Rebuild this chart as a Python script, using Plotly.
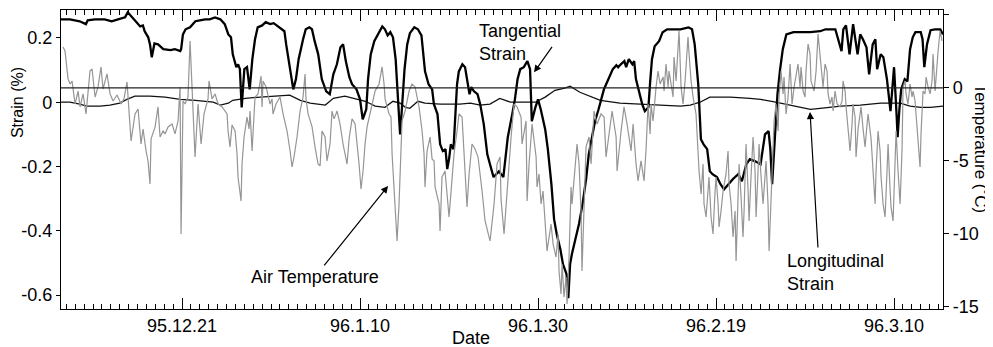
import plotly.graph_objects as go

# Days counted from 1995-12-01 (day 20 = 95.12.21)
tick_days = [20, 40, 60, 80, 100]
tick_labels = ["95.12.21", "96.1.10", "96.1.30", "96.2.19", "96.3.10"]

strain_ticks = [-0.6, -0.4, -0.2, 0, 0.2]
strain_labels = ["-0.6", "-0.4", "-0.2", "0", "0.2"]
temp_ticks = [-15, -10, -5, 0, 5]
temp_labels = ["-15", "-10", "-5", "0", "5"]

tan_day = [6.4, 7.4, 8.5, 9.2, 9.4, 10.2, 11.3, 12.1, 12.8, 13.6, 13.9, 14.4, 14.7, 15.3, 15.6, 15.8,
           16.2, 16.4, 16.6, 16.9, 17.3, 17.9, 18.7, 19.2, 19.8, 19.9, 20.1, 20.4, 20.9, 21.5, 22.0,
           22.6, 23.1, 23.7, 24.3, 24.8, 25.2, 25.5, 25.7, 26.1, 26.3, 26.5, 26.7, 27.0, 27.3, 27.6,
           27.9, 28.2, 28.5, 29.0, 29.4, 29.9, 30.3, 31.0, 31.5, 31.7, 32.0, 32.5, 32.8, 33.1, 33.6,
           33.9, 34.3, 34.6, 34.9, 35.3, 35.7, 36.2, 36.6, 37.0, 37.4, 37.8, 38.1, 38.4, 38.8, 39.1,
           39.6, 40.0, 40.3, 40.7, 40.9, 41.2, 41.6, 42.0, 42.5, 42.8, 43.1, 43.4, 43.7, 44.0, 44.3,
           44.5, 44.7, 45.0, 45.3, 45.6, 46.1, 46.5, 46.9, 47.1, 47.3, 47.7, 48.1, 48.3, 48.7, 49.0,
           49.3, 49.6, 49.8, 50.0, 50.2, 50.5, 50.7, 50.9, 51.1, 51.5, 51.8, 52.0, 52.3, 52.5, 52.8,
           53.2, 53.5, 53.9, 54.3, 54.6, 55.0, 55.3, 55.6, 56.1, 56.3, 56.6, 57.1, 57.4, 57.7, 58.0,
           58.4, 58.8, 59.1, 59.3, 59.7, 60.0, 60.3, 60.8, 61.1, 61.5, 61.8, 62.1, 62.5, 62.8, 63.2,
           63.4, 63.6, 63.8, 64.2, 64.6, 65.0, 65.4, 65.7, 66.1, 66.4, 66.8, 67.1, 67.4, 67.8, 68.1,
           68.4, 68.8, 69.0, 69.3, 69.7, 69.9, 70.2, 70.6, 70.8, 71.0, 71.3, 71.7, 72.0, 72.4, 72.6,
           72.8, 73.1, 73.6, 74.0, 74.5, 75.1, 76.0, 76.9, 77.3, 77.6, 77.8, 78.0, 78.3, 78.6, 79.0,
           79.3, 79.6, 80.1, 80.5, 80.9, 81.4, 81.9, 82.5, 82.9, 83.4, 83.8, 84.4, 85.0, 85.5, 85.9,
           86.1, 86.3, 86.6, 86.9, 87.2, 87.5, 87.9, 88.7, 89.4, 90.6, 91.7, 92.3, 93.4, 93.7, 94.1,
           94.3, 94.6, 95.0, 95.4, 95.9, 96.2, 96.5, 96.9, 97.2, 97.6, 97.9, 98.1, 98.5, 98.8, 99.2,
           99.6, 99.8, 100.0, 100.3, 100.4, 100.6, 100.8, 101.2, 101.5, 101.8, 102.1, 102.4, 103.0,
           103.2, 103.4, 103.7, 104.1, 104.6, 105.2, 105.5]
tan_strain = [0.258, 0.258, 0.252, 0.243, 0.255, 0.258, 0.258, 0.252, 0.258, 0.264, 0.280, 0.264, 0.255,
              0.236, 0.239, 0.221, 0.202, 0.180, 0.140, 0.183, 0.180, 0.165, 0.162, 0.165, 0.159, 0.165,
              0.211, 0.227, 0.233, 0.252, 0.255, 0.258, 0.258, 0.264, 0.258, 0.243, 0.211, 0.202, 0.149,
              0.109, 0.118, 0.103, -0.016, 0.103, 0.109, 0.040, 0.134, 0.196, 0.233, 0.239, 0.249, 0.243,
              0.246, 0.233, 0.221, 0.180, 0.128, 0.040, 0.072, 0.134, 0.196, 0.227, 0.233, 0.227, 0.190,
              0.149, 0.072, 0.034, 0.025, 0.087, 0.118, 0.171, 0.180, 0.128, 0.078, 0.056, 0.040, 0.009,
              -0.053, -0.022, 0.072, 0.149, 0.190, 0.211, 0.236, 0.227, 0.208, 0.218, 0.202, 0.134, 0.009,
              -0.100, -0.022, 0.103, 0.180, 0.215, 0.233, 0.227, 0.208, 0.149, 0.096, 0.056, 0.040, -0.006,
              -0.037, -0.131, -0.152, -0.146, -0.208, -0.177, -0.131, -0.146, -0.053, 0.056, 0.096, 0.118,
              0.109, 0.072, 0.025, 0.047, 0.034, 0.025, -0.006, -0.068, -0.162, -0.193, -0.233, -0.224,
              -0.215, -0.233, -0.177, -0.109, -0.037, 0.009, 0.072, 0.103, 0.109, 0.128, 0.103, -0.059,
              -0.016, 0.009, -0.022, -0.084, -0.146, -0.255, -0.364, -0.411, -0.457, -0.504, -0.535, -0.610,
              -0.504, -0.473, -0.426, -0.379, -0.317, -0.239, -0.162, -0.100, -0.059, -0.022, 0.009, 0.040,
              0.065, 0.087, 0.103, 0.115, 0.109, 0.118, 0.128, 0.109, 0.134, 0.118, 0.128, 0.072, 0.040,
              -0.006, -0.028, -0.016, 0.065, 0.134, 0.174, 0.190, 0.218, 0.227, 0.227, 0.227, 0.233, 0.227,
              0.180, 0.118, 0.056, -0.115, -0.131, -0.146, -0.215, -0.224, -0.233, -0.255, -0.271, -0.255,
              -0.239, -0.224, -0.246, -0.193, -0.177, -0.184, -0.193, -0.100, -0.090, -0.146, -0.255,
              -0.115, 0.025, 0.103, 0.165, 0.211, 0.218, 0.218, 0.218, 0.221, 0.227, 0.227, 0.196, 0.159,
              0.227, 0.239, 0.149, 0.243, 0.149, 0.211, 0.196, 0.171, 0.087, 0.180, 0.196, 0.103, 0.149,
              0.140, 0.072, -0.028, 0.040, 0.109, -0.047, -0.109, -0.022, 0.040, 0.072, 0.065, 0.165, 0.202,
              0.218, 0.218, 0.196, 0.109, 0.180, 0.224, 0.227, 0.227, 0.211]

lon_day = [6.4, 7.4, 8.5, 9.3, 10.8, 11.9, 13.0, 13.8, 14.7, 16.4, 18.1, 19.8, 21.5, 23.5, 24.3, 25.2,
           25.7, 27.1, 28.8, 31.0, 32.1, 33.3, 34.4, 36.1, 37.0, 38.3, 39.4, 40.6, 41.7, 42.8, 43.7,
           44.5, 45.1, 45.6, 46.5, 47.3, 49.0, 51.2, 52.4, 53.5, 54.6, 55.7, 56.9, 58.0, 59.7, 60.8,
           61.9, 63.0, 63.6, 64.7, 65.9, 67.0, 69.2, 71.5, 73.7, 76.0, 77.1, 78.2, 79.3, 81.6, 83.8,
           85.0, 86.7, 88.3, 89.4, 90.6, 91.7, 92.8, 94.0, 96.2, 98.5, 100.7, 101.8, 103.0, 104.1, 105.5]
lon_strain = [0.000, 0.000, -0.006, -0.012, -0.012, -0.009, -0.003, 0.009, 0.019, 0.019, 0.016, 0.009,
              0.006, 0.000, -0.009, -0.003, 0.006, 0.012, 0.016, 0.019, 0.022, 0.006, -0.003, -0.009,
              0.012, 0.019, 0.012, 0.003, -0.012, -0.016, 0.003, -0.003, -0.016, -0.019, 0.003, -0.003,
              -0.006, -0.006, -0.003, -0.009, -0.006, 0.012, 0.000, 0.000, 0.000, 0.016, 0.037, 0.044,
              0.050, 0.031, 0.019, 0.006, -0.003, -0.006, -0.009, -0.012, -0.009, 0.000, 0.016, 0.016,
              0.012, 0.009, 0.000, -0.009, -0.016, -0.022, -0.019, -0.016, -0.012, -0.009, -0.003, -0.003,
              -0.012, -0.016, -0.016, -0.012]

air_day = [6.63, 6.85, 7.19, 7.42, 7.64, 7.98, 8.32, 8.54, 8.88, 9.21, 9.66, 9.89, 10.23, 10.56, 10.90,
           11.12, 11.57, 11.91, 12.25, 12.70, 13.15, 13.48, 13.82, 14.16, 14.27, 14.72, 15.06, 15.39,
           15.62, 15.96, 16.18, 16.40, 16.52, 16.97, 17.30, 17.53, 17.87, 18.09, 18.43, 18.88, 19.21,
           19.55, 19.78, 19.89, 20.11, 20.34, 20.67, 20.90, 21.12, 21.46, 21.80, 22.14, 22.47, 22.92,
           23.03, 23.37, 23.71, 24.05, 24.50, 25.06, 25.17, 25.39, 25.62, 25.96, 26.18, 26.29, 26.63,
           26.74, 26.97, 27.30, 27.53, 27.64, 27.87, 28.20, 28.54, 28.77, 28.88, 28.99, 29.10, 29.44,
           29.66, 29.89, 30.11, 30.22, 30.56, 31.01, 31.35, 31.80, 32.14, 32.36, 32.58, 32.92, 33.26,
           33.60, 33.82, 33.93, 34.16, 34.61, 34.94, 35.28, 35.51, 35.73, 36.07, 36.29, 36.63, 36.85,
           37.08, 37.42, 37.75, 38.09, 38.54, 38.77, 39.10, 39.44, 39.89, 40.11, 40.34, 40.56, 40.79,
           41.35, 41.69, 42.14, 42.47, 42.70, 42.81, 43.26, 43.48, 43.60, 43.93, 44.16, 44.38, 44.50,
           44.72, 45.06, 45.51, 45.84, 46.18, 46.63, 46.97, 47.19, 47.30, 47.53, 47.87, 48.09, 48.32,
           48.43, 48.88, 48.99, 49.21, 49.55, 49.78, 50.00, 50.23, 50.56, 50.90, 51.12, 51.46, 51.69,
           52.02, 52.25, 52.58, 52.92, 53.26, 53.71, 54.05, 54.50, 54.61, 55.06, 55.39, 55.73, 55.84,
           56.18, 56.52, 56.97, 57.30, 57.64, 58.09, 58.20, 58.65, 58.77, 58.99, 59.33, 59.78, 59.89,
           60.11, 60.34, 60.56, 60.90, 61.01, 61.46, 61.69, 62.02, 62.25, 62.36, 62.58, 62.70, 62.92,
           63.15, 63.26, 63.48, 63.71, 63.82, 64.05, 64.38, 64.61, 64.83, 64.94, 65.17, 65.39, 65.73,
           65.96, 66.29, 66.63, 67.08, 67.42, 67.64, 67.98, 68.32, 68.77, 68.88, 69.33, 69.66, 70.00,
           70.45, 70.68, 71.01, 71.24, 71.57, 71.91, 72.14, 72.36, 72.59, 72.70, 72.92, 73.26, 73.48,
           73.71, 74.05, 74.16, 74.38, 74.61, 74.72, 75.17, 75.28, 75.51, 75.73, 75.84, 76.07, 76.29,
           76.52, 76.85, 76.97, 77.19, 77.42, 77.75, 78.09, 78.32, 78.54, 78.65, 78.88, 79.10, 79.21,
           79.44, 79.66, 79.89, 80.00, 80.23, 80.34, 80.56, 80.79, 81.12, 81.35, 81.46, 81.69, 81.91,
           82.14, 82.25, 82.47, 82.59, 82.81, 83.03, 83.15, 83.37, 83.60, 83.71, 83.93, 84.16, 84.38,
           84.50, 84.72, 84.83, 85.06, 85.28, 85.62, 85.84, 85.96, 86.18, 86.52, 86.74, 86.97, 87.08,
           87.30, 87.53, 87.64, 87.87, 88.09, 88.32, 88.54, 88.77, 88.99, 89.21, 89.44, 89.55, 89.78,
           90.00, 90.11, 90.34, 90.56, 90.67, 91.01, 91.24, 91.46, 91.69, 91.91, 92.02, 92.25, 92.47,
           92.59, 92.81, 93.03, 93.15, 93.37, 93.60, 93.93, 94.16, 94.27, 94.50, 94.61, 94.83, 95.06,
           95.28, 95.39, 95.62, 95.73, 95.96, 96.29, 96.52, 96.74, 96.97, 97.08, 97.42, 97.64, 97.87,
           97.98, 98.20, 98.43, 98.54, 98.77, 98.99, 99.21, 99.33, 99.55, 99.66, 99.89, 100.11, 100.23,
           100.45, 100.68, 100.90, 101.01, 101.24, 101.35, 101.57, 101.80, 102.02, 102.14, 102.36,
           102.47, 102.70, 102.92, 103.03, 103.26, 103.48, 103.60, 103.82, 104.05, 104.27, 104.38,
           104.61, 104.72, 104.95, 105.17, 105.39]
air_temp = [2.81, 2.53, 0.62, 0.27, 0.48, -1.10, -0.21, -1.30, -0.41, -1.78, 1.16, 1.30, -0.62, 0.07, 1.44,
            -0.07, 0.96, -0.41, -0.89, -0.48, -1.10, -0.75, 0.41, -2.26, -3.63, -1.78, -1.44, -3.84,
            -2.81, -4.32, -5.00, -6.58, -3.49, -2.67, -1.30, -3.36, -2.95, -3.15, -2.67, -2.47, -3.15,
            -2.26, 0.07, -10.00, -0.89, -1.10, -0.62, 3.22, -0.41, -4.73, -1.10, -3.84, -1.78, -0.75,
            0.48, -0.75, -0.41, -1.10, -1.30, -1.78, -2.95, -4.04, -2.53, -2.95, -4.52, -6.10, -7.74,
            -5.21, -3.36, -1.99, -2.81, -1.58, -4.32, -0.62, -0.41, 0.48, 0.82, -1.30, 0.48, 0.07,
            -0.41, -1.10, -0.75, -1.78, -1.10, -0.62, -1.78, -2.95, -4.32, -5.41, -4.73, -3.36, -1.58,
            -0.62, 0.96, -0.75, -1.78, -2.67, -4.04, -5.21, -5.34, -2.95, -3.36, -5.00, -3.84, -1.58,
            -2.12, -1.58, -2.47, -3.84, -5.21, -3.49, -2.12, -2.47, -5.21, -6.92, -5.69, -3.84, -2.67,
            -1.10, -0.21, 0.27, 1.44, 0.27, -0.75, -1.78, -1.99, -4.52, -7.95, -10.48, -7.95, -5.69,
            -2.26, -1.58, -0.21, 0.27, 0.07, -1.30, -2.95, -4.52, -6.78, -4.32, -3.36, -4.86, -5.00,
            -6.78, -7.95, -9.80, -6.10, -5.69, -7.06, -8.84, -7.06, -4.52, -2.95, -1.78, -1.99, -4.52,
            -8.15, -5.89, -3.84, -4.18, -4.73, -7.06, -9.11, -10.21, -10.48, -7.95, -5.21, -4.73, -7.60,
            -10.00, -6.92, -3.36, -1.10, -1.30, -1.99, -3.84, -2.26, -7.74, -5.21, -2.47, -4.73, -6.78,
            -5.89, -7.95, -7.06, -10.21, -11.17, -9.32, -10.69, -11.58, -10.00, -12.54, -14.11, -12.06, -14.32,
            -12.95, -14.80, -11.58, -6.78, -7.95, -6.10, -3.84, -5.21, -8.43, -12.54, -7.95, -4.04, -3.36,
            -5.21, -1.58, -2.47, -1.78, -1.99, -4.73, -2.95, -1.58, -3.36, -5.69, -2.95, -1.30, -2.47,
            -4.32, -2.47, -5.21, -6.37, -5.00, -6.37, -4.18, -1.10, -3.15, -1.10, -2.26, 0.07, 1.16,
            0.27, 0.75, -0.21, 1.64, 0.07, 1.16, -0.62, 2.12, 0.48, 3.49, 3.90, 0.07, -1.10,
            0.48, 3.49, 2.33, 0.48, -0.62, -1.78, -5.69, -7.26, -5.21, -7.95, -8.84, -7.06, -6.10,
            -8.84, -10.00, -7.06, -6.10, -7.95, -9.52, -8.43, -7.06, -5.89, -4.32, -6.58, -7.95, -10.21,
            -8.43, -11.85, -7.95, -5.21, -7.47, -10.21, -8.43, -3.84, -7.06, -9.11, -6.10, -3.36, -5.69,
            -8.84, -5.69, -3.84, -6.10, -7.95, -5.00, -7.95, -11.17, -7.95, -2.26, -1.10, -2.95, -0.62,
            1.16, -0.41, 0.75, -1.78, -0.62, 1.64, -1.10, 0.07, 0.75, 1.64, 0.07, 1.44, -0.21,
            -0.62, 1.16, 3.01, 2.33, 0.48, -0.21, 1.16, 3.70, 2.12, 0.96, 0.07, 1.64, 1.16,
            -0.41, -1.10, -0.62, -1.58, -0.21, -1.10, -1.30, -0.89, 0.48, -0.21, -1.30, -2.81, -4.32,
            -2.47, -1.10, -1.99, -4.73, -2.81, -1.30, -2.81, -4.04, -2.47, -1.78, -3.49, -5.69, -7.95,
            -5.69, -2.95, -4.32, -6.10, -7.95, -8.84, -5.69, -3.84, -6.92, -8.15, -9.11, -5.69, -2.95,
            -5.69, -7.95, -4.18, 0.07, 0.48, -0.41, -1.10, 0.27, -0.62, -0.21, -0.89,
            -1.78, -3.36, -5.41, -3.15, -0.21, -0.41, 0.75, 0.07, -0.41, 0.48, 2.33,
            -0.21, 0.75, 2.53, 3.90, 3.22]

FONT = "Liberation Sans, Arial, Helvetica, sans-serif"

fig = go.Figure()
fig.add_trace(go.Scatter(x=air_day, y=air_temp, yaxis="y2", mode="lines",
                         line=dict(color="#959595", width=1.2), name="Air Temperature"))
fig.add_trace(go.Scatter(x=lon_day, y=lon_strain, mode="lines",
                         line=dict(color="#111111", width=1.3), name="Longitudinal Strain"))
fig.add_trace(go.Scatter(x=tan_day, y=tan_strain, mode="lines",
                         line=dict(color="#000000", width=2.3), name="Tangential Strain"))
# empty trace so the mirrored top date axis (with its day ticks) is drawn
fig.add_trace(go.Scatter(x=[], y=[], xaxis="x2", yaxis="y", mode="lines",
                         showlegend=False, hoverinfo="skip"))

fig.add_shape(type="line", xref="paper", x0=0, x1=1, yref="y2", y0=0, y1=0,
              line=dict(color="#222222", width=1.3))

xcommon = dict(range=[6.4, 105.5], tickmode="array", tickvals=tick_days,
               ticks="inside", ticklen=11, tickwidth=1, tickcolor="black",
               showline=True, linecolor="black", linewidth=1.2,
               showgrid=False, zeroline=False,
               minor=dict(tickmode="linear", tick0=0, dtick=1, ticks="inside", ticklen=5,
                          tickwidth=1, tickcolor="black", showgrid=False))

fig.update_layout(
    width=993, height=347,
    # page body adds an 8px offset, so the figure margins are shifted by that amount
    margin=dict(l=53, r=58, t=2, b=46),
    paper_bgcolor="white", plot_bgcolor="white",
    showlegend=False,
    font=dict(family=FONT, size=18, color="black"),
    xaxis=dict(ticktext=tick_labels, **xcommon),
    xaxis2=dict(overlaying="x", side="top", anchor="y", showticklabels=False, **xcommon),
    yaxis=dict(range=[-0.6435, 0.287], tickmode="array", tickvals=strain_ticks, ticktext=strain_labels,
               ticks="outside", ticklen=4, tickcolor="black", showline=True, linecolor="black",
               linewidth=1.2, showgrid=False, zeroline=False),
    yaxis2=dict(range=[-15.14, 5.34], overlaying="y", side="right", tickmode="array",
                tickvals=temp_ticks, ticktext=temp_labels, ticks="outside", ticklen=5,
                tickcolor="black", showline=True, linecolor="black", linewidth=1.2,
                showgrid=False, zeroline=False),
)

ann = dict(showarrow=False, font=dict(family=FONT, size=18, color="black"))
fig.add_annotation(text="Strain (%)", xref="paper", yref="paper", x=-0.0499, y=0.692,
                   xanchor="center", yanchor="middle", textangle=-90,
                   showarrow=False, font=dict(family=FONT, size=16, color="black"))
fig.add_annotation(text="Temperature (˚C)", xref="paper", yref="paper", x=1.0425, y=0.538,
                   xanchor="center", yanchor="middle", textangle=90,
                   showarrow=False, font=dict(family=FONT, size=17, color="black"))
fig.add_annotation(text="Date", xref="paper", yref="paper", x=0.465, y=-0.097,
                   xanchor="center", yanchor="middle", **ann)

fig.add_annotation(text="Tangential<br>Strain", xref="x", yref="y", x=53.15, y=0.187,
                   xanchor="left", yanchor="middle", align="left", **ann)
fig.add_annotation(text="Air Temperature", xref="x", yref="y2", x=34.94, y=-12.95,
                   xanchor="center", yanchor="middle", **ann)
fig.add_annotation(text="Longitudinal<br>Strain", xref="x", yref="y2", x=87.75, y=-12.64,
                   xanchor="left", yanchor="middle", align="left", **ann)

arr = dict(text="", showarrow=True, arrowhead=2, arrowsize=1.2, arrowwidth=1.2, arrowcolor="black")
fig.add_annotation(x=59.55, y=0.093, xref="x", yref="y", ax=61.69, ay=0.177, axref="x", ayref="y", **arr)
fig.add_annotation(x=43.15, y=-6.71, xref="x", yref="y2", ax=35.84, ay=-12.26, axref="x", ayref="y2", **arr)
fig.add_annotation(x=90.56, y=-1.64, xref="x", yref="y2", ax=91.46, ay=-11.03, axref="x", ayref="y2", **arr)

fig.write_html("out.html")
